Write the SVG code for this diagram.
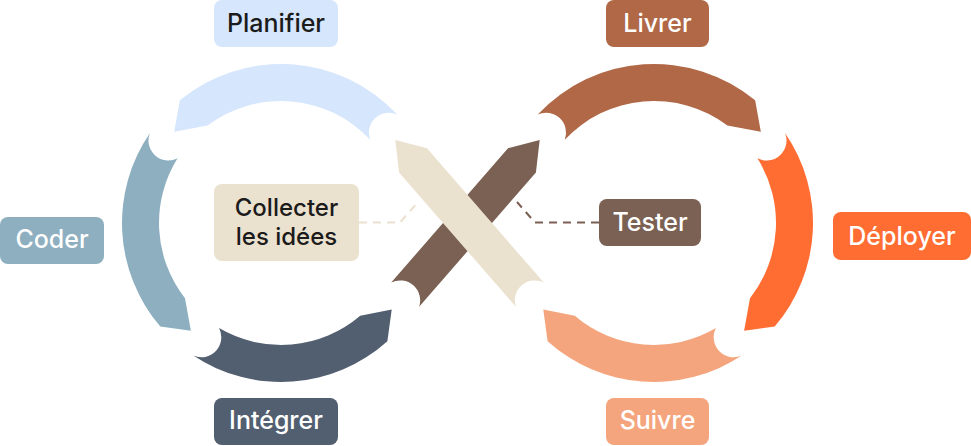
<svg xmlns="http://www.w3.org/2000/svg" xmlns:xlink="http://www.w3.org/1999/xlink" width="971" height="446" viewBox="0 0 971 446">
<style>
.lbl{font-family:Inter,"Liberation Sans",sans-serif;font-weight:500;font-size:25px;text-anchor:middle}
.sm{font-size:24px}
.dk{fill:#1b1b1b}
.wt{fill:#ffffff}
.dash{fill:none;stroke-width:2;stroke-dasharray:8 6}
</style>
<defs>
<path id="segTop" d="M397.29,114.56 A159,159 0 0 0 179.86,100.32 L174.16,131.76 L207.58,125.57 A122,122 0 0 1 370.23,139.80 A20,20 0 0 1 397.29,114.56 Z"/>
<path id="segSide" d="M149.97,132.94 A159,159 0 0 0 160.27,326.48 L190.88,330.79 L185.00,298.27 A122,122 0 0 1 177.54,158.35 A20,20 0 0 1 149.97,132.94 Z"/>
<path id="segBottom" d="M193.25,355.59 A159,159 0 0 0 387.39,341.15 L391.71,309.51 L360.23,315.77 A122,122 0 0 1 219.08,328.12 A20,20 0 0 1 193.25,355.59 Z"/>
<path id="band" d="M391.21,282.56 L508.0,148.22 L539.67,139.98 L535.92,172.5 L419.13,306.84 A20,20 0 0 0 391.21,282.56 Z"/>
</defs>

<g id="connectors">
<path class="dash" stroke="#EBE1CF" d="M359,222.5 H400 L418,202"/>
<path class="dash" stroke="#7A6153" d="M599,222.5 H535 L517,202"/>
</g>

<g id="planifier">
<use xlink:href="#segTop" fill="#D6E6FD"/>
<rect x="214" y="0" width="124" height="47" rx="8" fill="#D6E6FD"/>
<text class="lbl dk" x="276" y="32">Planifier</text>
</g>

<g id="coder">
<use xlink:href="#segSide" fill="#8DAFC0"/>
<rect x="0" y="217" width="104" height="47" rx="8" fill="#8DAFC0"/>
<text class="lbl wt" x="52" y="248">Coder</text>
</g>

<g id="integrer">
<use xlink:href="#segBottom" fill="#525F70"/>
<rect x="214" y="398" width="124" height="47" rx="8" fill="#525F70"/>
<text class="lbl wt" x="276" y="429">Intégrer</text>
</g>

<g id="livrer">
<use xlink:href="#segTop" transform="matrix(-1 0 0 1 935 0)" fill="#B06847"/>
<rect x="606" y="0" width="103" height="47" rx="8" fill="#B06847"/>
<text class="lbl wt" x="657.5" y="32">Livrer</text>
</g>

<g id="deployer">
<use xlink:href="#segSide" transform="matrix(-1 0 0 1 935 0)" fill="#FF6D33"/>
<rect x="833" y="212" width="138" height="48" rx="8" fill="#FF6D33"/>
<text class="lbl wt" x="902" y="245">Déployer</text>
</g>

<g id="suivre">
<use xlink:href="#segBottom" transform="matrix(-1 0 0 1 935 0)" fill="#F5A57D"/>
<rect x="606" y="398" width="103" height="47" rx="8" fill="#F5A57D"/>
<text class="lbl wt" x="657.5" y="429">Suivre</text>
</g>

<g id="tester">
<use xlink:href="#band" fill="#7A6153"/>
<rect x="599" y="199" width="102" height="47" rx="8" fill="#7A6153"/>
<text class="lbl wt" x="650" y="231">Tester</text>
</g>

<g id="collecter">
<use xlink:href="#band" transform="matrix(-1 0 0 1 935 0)" fill="#EBE1CF"/>
<rect x="214" y="184" width="145" height="77" rx="8" fill="#EBE1CF"/>
<text class="lbl sm dk" x="286.5" y="216">Collecter</text>
<text class="lbl sm dk" x="286.5" y="245">les idées</text>
</g>
</svg>
